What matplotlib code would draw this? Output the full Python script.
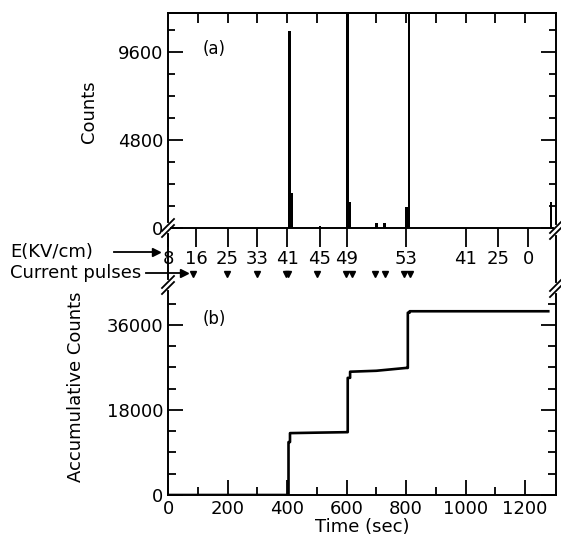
import numpy as np
import matplotlib.pyplot as plt
from matplotlib.lines import Line2D
from matplotlib.transforms import blended_transform_factory

# (a) counts per channel
spike_t = [408, 416, 511, 603, 612, 700, 728, 802, 810, 1287]
spike_counts = [10700, 1900, 120, 12500, 1400, 250, 250, 1150, 12500, 1400]

# field values along the time axis
e_t = [0, 95, 200, 300, 400, 510, 600, 800, 1000, 1110, 1210]
e_labels = ['8', '16', '25', '33', '41', '45', '49', '53', '41', '25', '0']

# current pulse times
pulse_t = [84, 198, 299, 396, 404, 501, 597, 618, 697, 728, 792, 812]

# (b) accumulated counts
cum_t = [0, 405, 405, 410, 410, 500, 600, 604, 604, 612, 612, 700, 800, 806, 806, 812, 812, 1278]
cum_counts = [0, 0, 11200, 11200, 13100, 13200, 13300, 13300, 24800, 24800, 26100, 26300,
              26900, 26900, 38600, 38600, 38900, 38900]

W, H = 561, 538
fig = plt.figure(figsize=(W / 100, H / 100), dpi=100)
plt.rcParams['font.family'] = 'DejaVu Sans'
fs = 13

def fx(px):
    return px / W

def fy(py):
    return 1 - py / H

L, R = 168, 556
ax1 = fig.add_axes([fx(L), fy(228), fx(R - L), (228 - 13) / H])
ax2 = fig.add_axes([fx(L), fy(495), fx(R - L), (495 - 290) / H])

for a in (ax1, ax2):
    for s in a.spines.values():
        s.set_linewidth(1.4)
    a.set_xlim(0, 1304)

# top panel
ax1.bar(spike_t, spike_counts, width=9, color='k')
ax1.set_ylim(0, 11700)
ax1.set_yticks([0, 4800, 9600])
ax1.set_yticks(np.arange(0, 11700, 1200), minor=True)
ax1.tick_params(axis='y', which='both', direction='in', left=True, right=True, labelsize=fs)
ax1.tick_params(axis='y', which='major', length=11, width=1.3)
ax1.tick_params(axis='y', which='minor', length=5, width=1.3)
ax1.set_xticks(e_t)
ax1.set_xticklabels(e_labels)
ax1.tick_params(axis='x', direction='out', length=14, width=1.3, labelsize=fs, pad=2)
top = ax1.secondary_xaxis('top')
top.set_xticks(np.arange(100, 1300, 100))
top.tick_params(direction='in', length=7, width=1.3, labeltop=False)
top.spines['top'].set_linewidth(1.4)
ax1.set_ylabel('Counts', fontsize=fs)
ax1.yaxis.set_label_coords(-0.18, 0.54)
ax1.text(0.09, 0.833, '(a)', transform=ax1.transAxes, fontsize=fs - 1, va='center')

# bottom panel
ax2.plot(cum_t, cum_counts, color='k', lw=1.9)
ax2.spines['top'].set_visible(False)
ax2.set_ylim(0, 43400)
ax2.set_yticks([0, 18000, 36000])
ax2.set_yticks(np.arange(0, 43400, 4500), minor=True)
ax2.set_xticks(np.arange(0, 1300, 200))
ax2.set_xticks(np.arange(0, 1300, 100), minor=True)
ax2.tick_params(which='both', direction='in', left=True, right=True, labelsize=fs, width=1.3)
ax2.tick_params(which='major', length=11)
ax2.tick_params(which='minor', length=6)
ax2.set_xlabel('Time (sec)', fontsize=fs, labelpad=0)
ax2.set_ylabel('Accumulative Counts', fontsize=fs)
ax2.yaxis.set_label_coords(-0.213, 0.527)
ax2.text(0.09, 0.86, '(b)', transform=ax2.transAxes, fontsize=fs - 1, va='center')

# connecting spines between the panels
for x in (L, R):
    fig.add_artist(Line2D([fx(x), fx(x)], [fy(228), fy(290)], color='k', lw=1.4))

# break marks
def brk(x, y):
    fig.add_artist(Line2D([fx(x), fx(x)], [fy(y - 3), fy(y + 3)], color='w', lw=3))
    for dy in (-3, 3):
        fig.add_artist(Line2D([fx(x - 6), fx(x + 6)], [fy(y + dy + 6), fy(y + dy - 6)],
                              color='k', lw=1.3))

for x, y in [(L, 228), (L, 285), (R, 230), (R, 288)]:
    brk(x, y)

# row labels with arrows
fig.text(fx(10), fy(252), 'E(KV/cm)', fontsize=fs, va='center', ha='left')
fig.add_artist(Line2D([fx(114), fx(156)], [fy(252), fy(252)], color='k', lw=1.3))
fig.add_artist(Line2D([fx(156)], [fy(252)], marker='>', color='k', markersize=6))
fig.text(fx(10), fy(273), 'Current pulses', fontsize=fs, va='center', ha='left')
fig.add_artist(Line2D([fx(146), fx(184)], [fy(273), fy(273)], color='k', lw=1.3))
fig.add_artist(Line2D([fx(184)], [fy(273)], marker='>', color='k', markersize=6))

tr = blended_transform_factory(ax2.transData, fig.transFigure)
ax2.plot(pulse_t, [fy(274)] * len(pulse_t), transform=tr, ls='none', marker='v',
         color='k', markersize=4.5, clip_on=False)

fig.savefig('out.png', dpi=100)
